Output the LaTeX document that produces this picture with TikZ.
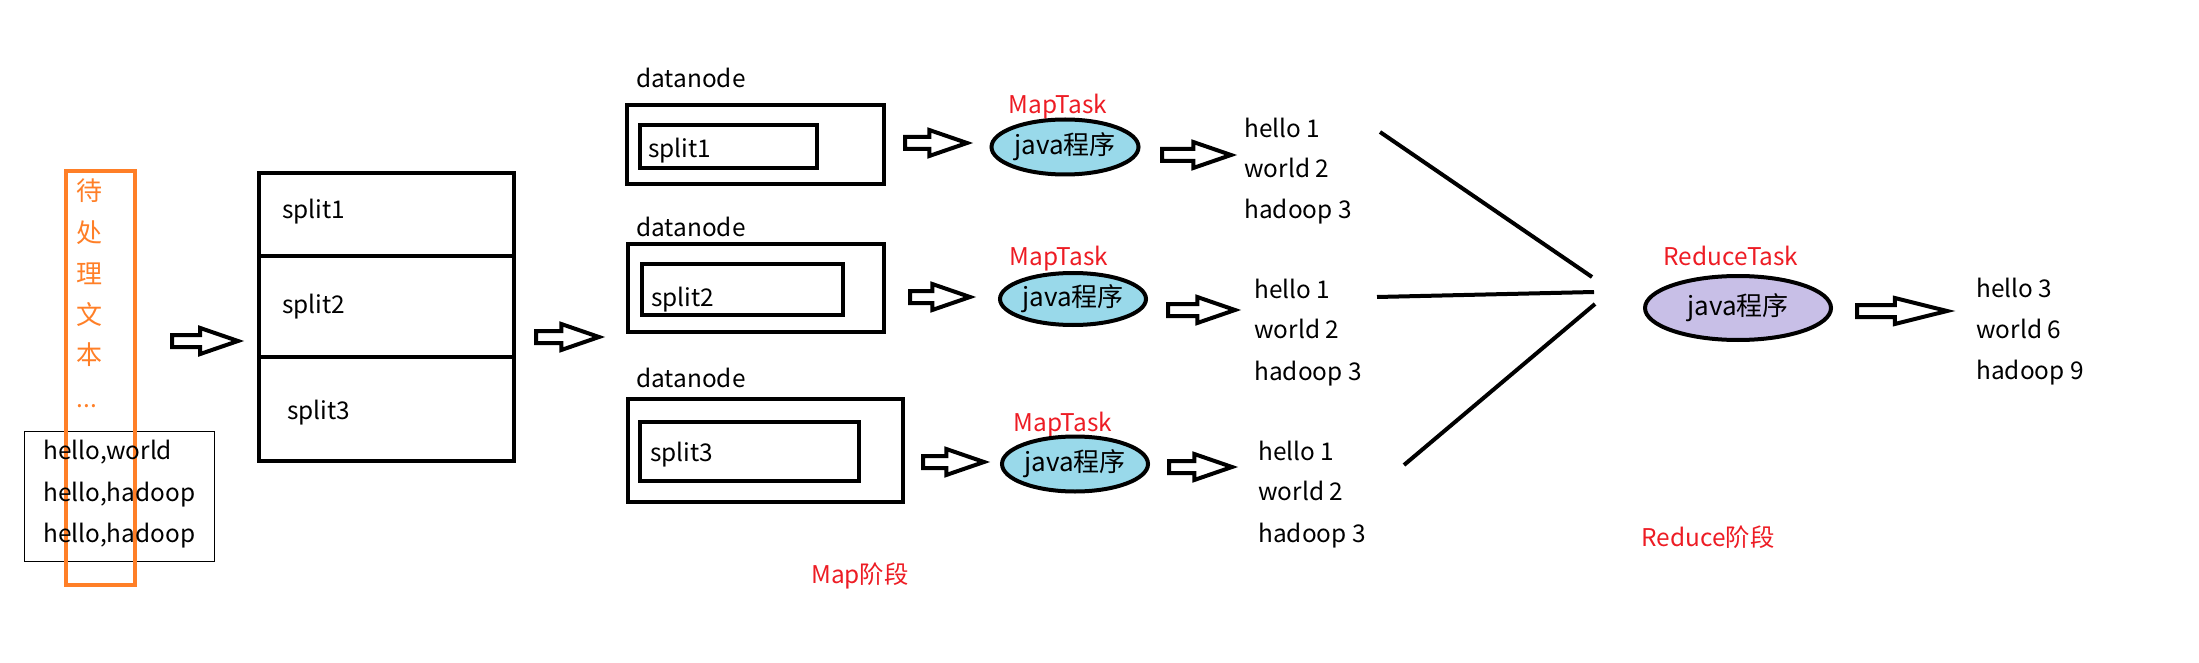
\documentclass[tikz,border=0pt]{standalone}
\usepackage{fontspec}
\setmainfont{Noto Sans CJK SC}
\usetikzlibrary{shapes.geometric,shapes.arrows}
\definecolor{porange}{RGB}{255,127,39}
\definecolor{pred}{RGB}{237,28,36}
\definecolor{pblue}{RGB}{153,217,234}
\definecolor{plav}{RGB}{200,191,231}
\begin{document}
\begin{tikzpicture}[x=0.5pt,y=-0.5pt,
  font=\fontsize{12.2}{15}\selectfont,
  txt/.style={anchor=west, inner sep=0pt, text height=0.75em, text depth=0pt},
  ctxt/.style={anchor=center, inner sep=0pt, text height=0.75em, text depth=0pt},
  redlbl/.style={ctxt, text=pred},
  orch/.style={ctxt, text=porange, font=\fontsize{13}{16}\selectfont},
  tbox/.style={draw, line width=2pt, rectangle, inner sep=0pt},
  blk/.style={single arrow, draw, line width=2pt, fill=white, inner xsep=0pt,
    inner ysep=2pt, single arrow head extend=3.5pt, single arrow tip angle=38,
    single arrow head indent=0pt, anchor=tail},
  task/.style={ellipse, draw, line width=2pt, inner sep=0pt, font=\fontsize{13}{16}\selectfont},
  wire/.style={line width=2pt}
]
\useasboundingbox (0,0) rectangle (2199,663);

% input text box
\node[draw, line width=0.5pt, rectangle, inner sep=0pt, minimum width=95pt, minimum height=65pt] (inbox) at (119.5,496) {};
\node[draw=porange, line width=2pt, rectangle, inner sep=0pt, minimum width=34.5pt, minimum height=207pt] (orect) at (100.5,378) {};
\node[orch] (c1) at (89,193) {待};
\node[orch] (c2) at (89,235) {处};
\node[orch] (c3) at (89,276) {理};
\node[orch] (c4) at (89,317) {文};
\node[orch] (c5) at (89,357) {本};
\node[anchor=base, inner sep=0pt, text=porange] (c6) at (87,407) {...};
\node[txt] (h1) at (43,452) {hello,world};
\node[txt] (h2) at (43,494) {hello,hadoop};
\node[txt] (h3) at (43,535) {hello,hadoop};

% arrow 1
\node[blk, minimum height=33pt] (a1) at (170,341) {};

% split stack
\node[tbox, minimum width=127.5pt, minimum height=41.5pt] (s1) at (386.5,214.5) {};
\node[tbox, minimum width=127.5pt, minimum height=50.5pt] (s2) at (386.5,306.5) {};
\node[tbox, minimum width=127.5pt, minimum height=52pt] (s3) at (386.5,409) {};
\node[txt] (s1t) at (282,211) {split1};
\node[txt] (s2t) at (282,306) {split2};
\node[txt] (s3t) at (287,412) {split3};

% arrow 2
\node[blk, minimum height=31.5pt] (a2) at (534,337) {};

% datanodes
\node[txt] (d1) at (636,80) {datanode};
\node[txt] (d2) at (636,229) {datanode};
\node[txt] (d3) at (636,380) {datanode};
\node[tbox, minimum width=128.5pt, minimum height=39.5pt] (b1) at (755.5,144.5) {};
\node[tbox, minimum width=88.5pt, minimum height=21.5pt] (i1) at (728.5,146.5) {};
\node[tbox, minimum width=128pt, minimum height=44pt] (b2) at (756,288) {};
\node[tbox, minimum width=100.5pt, minimum height=25.5pt] (i2) at (742.5,289.5) {};
\node[tbox, minimum width=137.5pt, minimum height=51.5pt] (b3) at (765.5,450.5) {};
\node[tbox, minimum width=109.5pt, minimum height=29.5pt] (i3) at (749.5,451.5) {};
\node[txt] (i1t) at (648,150) {split1};
\node[txt] (i2t) at (651,299) {split2};
\node[txt] (i3t) at (650,454) {split3};

% map arrows
\node[blk, minimum height=31pt] (a3) at (903,143) {};
\node[blk, minimum height=30pt] (a5) at (908,297) {};
\node[blk, minimum height=30.5pt] (a7) at (921,462) {};

% map tasks
\node[redlbl] (m1) at (1058,106) {MapTask};
\node[redlbl] (m2) at (1059,258) {MapTask};
\node[redlbl] (m3) at (1063,424) {MapTask};
\node[task, fill=pblue, minimum width=73.5pt, minimum height=27.5pt] (e1) at (1065,147) {java程序};
\node[task, fill=pblue, minimum width=73pt, minimum height=26pt] (e2) at (1073,299) {java程序};
\node[task, fill=pblue, minimum width=73pt, minimum height=27.5pt] (e3) at (1075,464) {java程序};

\node[blk, minimum height=34.5pt] (a4) at (1160,155) {};
\node[blk, minimum height=33.5pt] (a6) at (1166,310) {};
\node[blk, minimum height=31.5pt] (a8) at (1167,467) {};

% map outputs
\node[txt] (o11) at (1244,130) {hello 1};
\node[txt] (o12) at (1244,170) {world 2};
\node[txt] (o13) at (1244,211) {hadoop 3};
\node[txt] (o21) at (1254,291) {hello 1};
\node[txt] (o22) at (1254,331) {world 2};
\node[txt] (o23) at (1254,373) {hadoop 3};
\node[txt] (o31) at (1258,453) {hello 1};
\node[txt] (o32) at (1258,493) {world 2};
\node[txt] (o33) at (1258,535) {hadoop 3};

\node[redlbl] (mapphase) at (860,576) {Map阶段};

% converging lines
\coordinate (l1a) at (1380,132);
\coordinate (l1b) at (1592,277);
\coordinate (l2a) at (1377,297);
\coordinate (l2b) at (1594,292);
\coordinate (l3a) at (1404,465);
\coordinate (l3b) at (1595,304);
\draw[wire] (l1a) -- (l1b);
\draw[wire] (l2a) -- (l2b);
\draw[wire] (l3a) -- (l3b);

% reduce
\node[redlbl] (rt) at (1731,258) {ReduceTask};
\node[task, fill=plav, minimum width=93pt, minimum height=32pt] (er) at (1738,308) {java程序};
\node[blk, minimum height=45pt, single arrow tip angle=28] (a9) at (1855,311) {};
\node[txt] (r1) at (1976,290) {hello 3};
\node[txt] (r2) at (1976,331) {world 6};
\node[txt] (r3) at (1976,372) {hadoop 9};
\node[redlbl] (redphase) at (1708,539) {Reduce阶段};
\end{tikzpicture}
\end{document}
